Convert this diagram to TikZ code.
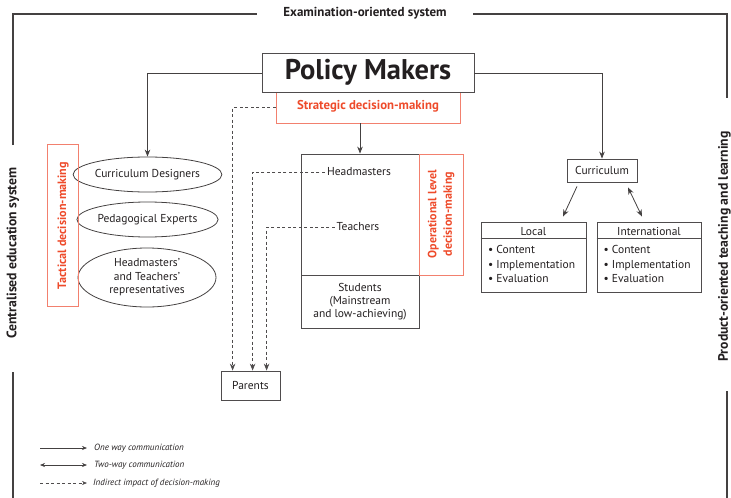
\documentclass[tikz,border=0pt]{standalone}
\usepackage{fontspec}
\setmainfont{PT Sans}
\usetikzlibrary{arrows.meta,shapes.geometric,calc}
\definecolor{ink}{HTML}{231F20}
\definecolor{redt}{HTML}{EE4B2B}
\definecolor{redb}{HTML}{F2806E}
\begin{document}
\begin{tikzpicture}[x=1pt,y=-1pt,
  every node/.style={text=ink},
  base/.style={font=\fontsize{11.5}{13}\selectfont},
  frameline/.style={draw=ink!85, line width=1.8pt},
  framelabel/.style={font=\fontsize{13.7}{15}\selectfont\bfseries},
  boxnode/.style={draw=ink!80, line width=0.8pt, fill=white, inner sep=0pt, base},
  ellnode/.style={ellipse, draw=ink!85, line width=0.8pt, inner sep=0pt, base, align=center},
  redbox/.style={draw=redb, line width=0.9pt, inner sep=0pt},
  redlabel/.style={text=redt, font=\fontsize{12.8}{14}\selectfont\bfseries, align=center},
  arr/.style={draw=ink!85, line width=0.8pt, -{Stealth[length=7pt,width=5.5pt]}},
  dblarr/.style={draw=ink!85, line width=0.8pt, {Stealth[length=7pt,width=5.5pt]}-{Stealth[length=7pt,width=5.5pt]}},
  dsh/.style={draw=ink!80, line width=0.8pt, dash pattern=on 3pt off 2.5pt, -{Stealth[length=7pt,width=5.5pt]}},
  legtxt/.style={anchor=west, font=\fontsize{9}{10}\selectfont\itshape, inner sep=0pt},
]
\useasboundingbox (0,0) rectangle (731,498);

% frame
\node[framelabel, font=\fontsize{13}{14}\selectfont\bfseries] (exa) at (365,13.5) {Examination-oriented system};
\node[framelabel, rotate=90] (cen) at (13,253) {Centralised education system};
\node[framelabel, rotate=90] (pro) at (724.5,246.5) {Product-oriented teaching and learning};
\draw[frameline] (13,145) -- (13,14) -- (257,14);
\draw[frameline] (473,14) -- (727,14) -- (727,98);
\draw[frameline] (13,372) -- (13,498);
\draw[frameline] (727,391) -- (727,498);

% strategic + policy makers
\node[redbox, minimum width=184pt, minimum height=31pt] (sd) at (368,107.5) {};
\node[redlabel] at (368,106) {Strategic decision-making};
\node[boxnode, minimum width=212pt, minimum height=39pt, font=\fontsize{28.5}{30}\selectfont\bfseries] (pm) at (368,72.5) {Policy Makers};

% central column
\node[boxnode, minimum width=118pt, minimum height=121pt] (hm) at (360,214.5) {};
\node[boxnode, minimum width=118pt, minimum height=53pt, align=center] (st) at (360,301.5) {Students\\(Mainstream\\and low-achieving)};
\node[redbox, minimum width=44pt, minimum height=121pt] (op) at (441,214.5) {};
\node[redlabel, rotate=90, font=\fontsize{12}{15.5}\selectfont\bfseries] at (441,214) {Operational level\\decision-making};
\node[base, inner sep=2pt] (hmt) at (359,172) {Headmasters};
\node[base, inner sep=2pt] (tt) at (358,227) {Teachers};

% parents
\node[boxnode, minimum width=59pt, minimum height=29pt] (par) at (250.5,385.5) {Parents};

% left ellipses
\node[ellnode, minimum width=139pt, minimum height=35pt] (cd) at (147.5,174.5) {Curriculum Designers};
\node[ellnode, minimum width=139pt, minimum height=35pt] (pe) at (147.5,219.5) {Pedagogical Experts};
\node[ellnode, minimum width=138pt, minimum height=59pt, font=\fontsize{11.5}{13.5}\selectfont] (ht) at (147,277.5) {Headmasters’\\and Teachers’\\representatives};
\node[redbox, minimum width=31pt, minimum height=162pt] (tac) at (62.5,225) {};
\node[redlabel, rotate=90, font=\fontsize{12.1}{14}\selectfont\bfseries] at (63,225.5) {Tactical decision-making};

% right side
\node[boxnode, minimum width=70pt, minimum height=23pt] (cur) at (602,170.5) {Curriculum};
\node[boxnode, minimum width=105pt, minimum height=70pt] (loc) at (533.5,257) {};
\node[boxnode, minimum width=104pt, minimum height=70pt] (int) at (649,257) {};
\draw[draw=ink!80, line width=0.8pt] ($(loc.north west)+(0,17)$) -- ($(loc.north east)+(0,17)$);
\draw[draw=ink!80, line width=0.8pt] ($(int.north west)+(0,17)$) -- ($(int.north east)+(0,17)$);
\node[base] at (533.5,231.5) {Local};
\node[base] at (649,231.5) {International};
\node[base, anchor=north west, align=left, inner sep=0pt, font=\fontsize{11.5}{14.5}\selectfont] at (488,245.5) {• Content\\• Implementation\\• Evaluation};
\node[base, anchor=north west, align=left, inner sep=0pt, font=\fontsize{11.5}{14.5}\selectfont] at (603.5,245.5) {• Content\\• Implementation\\• Evaluation};

% connectors
\draw[arr] (pm.west |- 0,73) -| (cd.north);
\draw[arr] (pm.east |- 0,73) -| (cur.north);
\draw[arr] (hm.north |- sd.south) -- (hm.north);
\draw[arr] ($(cur.south)+(-25,4)$) -- ($(loc.north)+(29.5,-5)$);
\draw[dblarr] ($(cur.south)+(26,5)$) -- ($(int.north)+(-7,-5)$);
\draw[dsh] (sd.west) -| ($(par.north west)+(12,0)$);
\draw[dsh] (hmt.west) -| ($(par.north west)+(32,0)$);
\draw[dsh] (tt.west) -| ($(par.north west)+(46,0)$);

% legend
\coordinate (l1a) at (40,448); \coordinate (l1b) at (87,448);
\coordinate (l2a) at (40,465); \coordinate (l2b) at (87,465);
\coordinate (l3a) at (40,483); \coordinate (l3b) at (87,483);
\draw[arr, line width=0.6pt, -{Stealth[length=5pt,width=4pt]}] (l1a) -- (l1b);
\draw[dblarr, line width=0.6pt, {Stealth[length=5pt,width=4pt]}-{Stealth[length=5pt,width=4pt]}] (l2a) -- (l2b);
\draw[dsh, line width=0.6pt, -{Stealth[length=5pt,width=4pt]}] (l3a) -- (l3b);
\node[legtxt] (t1) at (94,448) {One way communication};
\node[legtxt] (t2) at (94,465) {Two-way communication};
\node[legtxt] (t3) at (93,483) {Indirect impact of decision-making};
\end{tikzpicture}
\end{document}
